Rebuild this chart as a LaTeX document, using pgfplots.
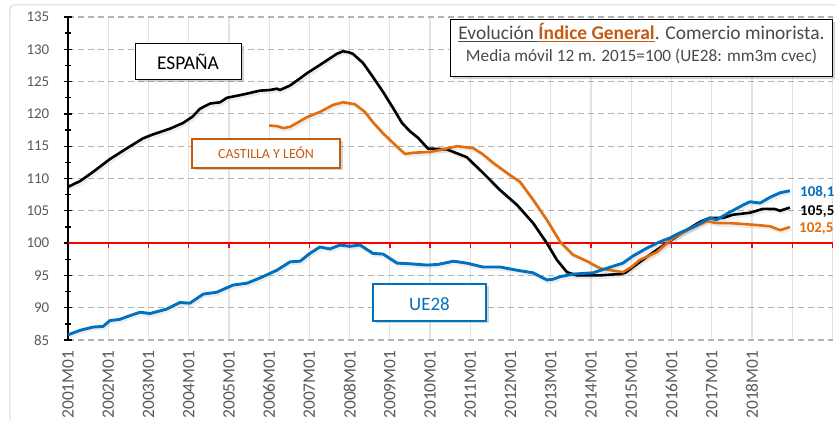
\documentclass[border=0pt]{standalone}
\usepackage{pgfplots}
\usepackage{pgfplotstable}
\pgfplotsset{compat=1.18}
\usepackage{fontspec}
\setmainfont{Carlito}
\usetikzlibrary{shadows}
\definecolor{cblue}{HTML}{0070C0}
\definecolor{corange}{HTML}{E46C0A}
\definecolor{cbrown}{HTML}{C55A11}
\definecolor{tgray}{HTML}{595959}
\definecolor{tgray2}{HTML}{4A4A4A}

\pgfplotstableread{
x y
2001.00 108.7
2001.30 109.6
2001.62 111.0
2002.04 113.0
2002.47 114.7
2002.86 116.2
2003.10 116.8
2003.53 117.7
2003.86 118.6
2004.10 119.6
2004.28 120.8
2004.53 121.6
2004.78 121.8
2004.95 122.5
2005.35 123.0
2005.77 123.6
2006.02 123.7
2006.19 123.9
2006.27 123.7
2006.52 124.4
2006.70 125.2
2006.94 126.3
2007.34 127.9
2007.68 129.3
2007.84 129.7
2008.00 129.5
2008.08 129.3
2008.33 127.9
2008.58 125.7
2008.83 123.4
2009.08 120.9
2009.30 118.6
2009.50 117.3
2009.70 116.3
2009.95 114.6
2010.10 114.6
2010.42 114.5
2010.91 113.3
2011.31 110.9
2011.74 108.2
2012.16 105.9
2012.56 103.1
2012.90 100.0
2013.15 97.4
2013.40 95.5
2013.65 95.0
2014.20 95.0
2014.70 95.2
2014.85 95.4
2015.04 96.3
2015.46 98.2
2015.88 100.0
2016.29 101.7
2016.71 103.3
2016.95 103.9
2017.28 103.9
2017.53 104.4
2017.95 104.7
2018.27 105.3
2018.55 105.3
2018.70 105.0
2018.94 105.5
}\esp

\pgfplotstableread{
x y
2006.00 118.2
2006.20 118.1
2006.35 117.8
2006.52 118.0
2006.94 119.5
2007.26 120.3
2007.59 121.4
2007.84 121.8
2008.13 121.5
2008.38 120.3
2008.58 118.7
2008.83 117.0
2009.18 114.9
2009.38 113.8
2009.60 114.0
2010.00 114.1
2010.30 114.5
2010.67 115.0
2011.07 114.7
2011.30 113.8
2011.57 112.4
2011.99 110.5
2012.23 109.5
2012.56 106.7
2012.90 103.6
2013.23 100.2
2013.55 98.2
2013.90 97.2
2014.22 96.1
2014.50 95.8
2014.79 95.5
2015.00 96.3
2015.21 97.4
2015.63 98.6
2016.04 100.8
2016.46 102.2
2016.88 103.4
2017.12 103.1
2017.45 103.1
2018.12 102.8
2018.45 102.6
2018.70 102.0
2018.94 102.5
}\cyl

\pgfplotstableread{
x y
2001.00 85.8
2001.30 86.5
2001.62 87.0
2001.87 87.1
2002.04 88.0
2002.29 88.2
2002.46 88.6
2002.79 89.3
2003.04 89.1
2003.46 89.8
2003.78 90.8
2004.03 90.7
2004.36 92.1
2004.70 92.4
2005.10 93.5
2005.45 93.8
2005.77 94.6
2006.19 95.8
2006.52 97.1
2006.77 97.2
2007.01 98.4
2007.26 99.4
2007.51 99.1
2007.76 99.7
2008.00 99.5
2008.26 99.7
2008.58 98.4
2008.83 98.3
2009.18 96.9
2009.50 96.8
2009.92 96.6
2010.20 96.7
2010.58 97.2
2010.91 96.9
2011.31 96.3
2011.74 96.3
2012.16 95.8
2012.56 95.4
2012.90 94.3
2013.05 94.4
2013.23 94.8
2013.55 95.2
2014.05 95.4
2014.39 96.1
2014.79 96.9
2015.04 98.0
2015.38 99.2
2015.71 100.2
2015.96 100.8
2016.21 101.6
2016.54 102.5
2016.95 103.9
2017.12 103.6
2017.45 104.8
2017.78 105.9
2017.95 106.4
2018.20 106.2
2018.45 107.1
2018.70 107.8
2018.94 108.1
}\ue

\begin{document}
\begin{tikzpicture}
\useasboundingbox (-68bp,-81bp) rectangle (768bp,340bp);
\begin{pgfinterruptboundingbox}
\begin{scope}
\clip (-68bp,-81bp) rectangle (768bp,340bp);
\draw[gray!30, line width=1bp, rounded corners=4bp] (-58bp,335bp) rectangle (820bp,-140bp);
\begin{axis}[
  at={(0,0)}, anchor=south west,
  scale only axis, width=764.5bp, height=323bp,
  xmin=2001, xmax=2020, ymin=85, ymax=135,
  clip=false,
  axis lines=left, axis line style={-},
  x axis line style={draw=none},
  y axis line style={black, line width=1.5bp},
  xtick={2001,...,2020},
  xticklabels={2001M01,2002M01,2003M01,2004M01,2005M01,2006M01,2007M01,2008M01,2009M01,2010M01,2011M01,2012M01,2013M01,2014M01,2015M01,2016M01,2017M01,2018M01,{},{}},
  xtick style={draw=none},
  xmajorgrids, x grid style={gray!22, line width=1.2bp},
  ytick={85,90,...,135},
  minor ytick={87.5,92.5,...,132.5},
  ymajorgrids, y grid style={gray!60, line width=1.1bp, dash pattern=on 6bp off 4bp},
  tick align=center,
  ytick style={black, line width=1.3bp},
  major tick length=9bp, minor tick length=7bp,
  /pgf/number format/assume math mode=true,
  yticklabel style={font=\fontsize{15}{15}\selectfont, text=tgray, anchor=east, inner sep=0pt, xshift=-14bp},
  xticklabel style={font=\fontsize{17.5}{17.5}\selectfont, text=tgray, yshift=-6bp, rotate=90, anchor=east, inner sep=0pt},
]
\draw[red, line width=1.7bp] (axis cs:2001,100) -- (axis cs:2020,100);
\pgfplotsinvokeforeach{2002,2003,2004,2005,2006,2007,2008,2009,2010,2011,2012,2013,2014,2015,2016,2017,2018,2019,2020}{
  \draw[red, line width=1.3bp] (axis cs:#1,100) -- (axis cs:#1,99.2);
}
\addplot[gray, opacity=0.14, line width=3.5bp, forget plot] table[x expr=\thisrow{x}+0.035, y expr=\thisrow{y}-0.3] {\esp};
\addplot[gray, opacity=0.14, line width=3.5bp, forget plot] table[x expr=\thisrow{x}+0.035, y expr=\thisrow{y}-0.3] {\cyl};
\addplot[gray, opacity=0.14, line width=3.5bp, forget plot] table[x expr=\thisrow{x}+0.035, y expr=\thisrow{y}-0.3] {\ue};
\addplot[black, line width=2.6bp, line join=round] table[x=x,y=y] {\esp};
\addplot[corange, line width=2.6bp, line join=round] table[x=x,y=y] {\cyl};
\addplot[cblue, line width=2.9bp, line join=round] table[x=x,y=y] {\ue};
\end{axis}
% annotation boxes
\path[draw=black, line width=1bp, fill=white, drop shadow={opacity=0.35, shadow xshift=2.5bp, shadow yshift=-2.5bp}] (382bp,263bp) rectangle (764bp,320bp);
\node[anchor=base, inner sep=0pt, text=tgray2, font=\fontsize{19.5}{19.5}\selectfont] at (573.5bp,300bp) {\underline{Evolución~}\textcolor{cbrown}{\underline{\textbf{Índice General}}}. Comercio minorista.};
\node[anchor=base, inner sep=0pt, text=tgray2, font=\fontsize{17.3}{17.3}\selectfont] at (573.5bp,278bp) {Media móvil 12 m. 2015=100 (UE28: mm3m cvec)};

\path[draw=black, line width=1bp, fill=white, drop shadow={opacity=0.35, shadow xshift=2.5bp, shadow yshift=-2.5bp}] (67bp,260bp) rectangle (173bp,296bp);
\node[anchor=base, inner sep=0pt, text=black, font=\fontsize{19.5}{19.5}\selectfont] at (120bp,270bp) {ESPAÑA};

\path[draw=cbrown, line width=1.2bp, fill=white, drop shadow={opacity=0.35, shadow xshift=2.5bp, shadow yshift=-2.5bp}] (124bp,172bp) rectangle (272bp,201bp);
\node[anchor=base, inner sep=0pt, text=cbrown, font=\fontsize{14}{14}\selectfont] at (198bp,181.5bp) {CASTILLA Y LEÓN};

\path[draw=cblue, line width=1.2bp, fill=white, drop shadow={opacity=0.35, shadow xshift=2.5bp, shadow yshift=-2.5bp}] (305bp,19bp) rectangle (418bp,56bp);
\node[anchor=base, inner sep=0pt, text=cblue, font=\fontsize{19}{19}\selectfont] at (361.5bp,30bp) {UE28};

\node[anchor=base west, inner sep=0pt, text=cblue, font=\bfseries\fontsize{15}{15}\selectfont] at (732bp,143bp) {108,1};
\node[anchor=base west, inner sep=0pt, text=black, font=\bfseries\fontsize{15}{15}\selectfont] at (732bp,124bp) {105,5};
\node[anchor=base west, inner sep=0pt, text=corange, font=\bfseries\fontsize{15}{15}\selectfont] at (731bp,107bp) {102,5};
\end{scope}
\end{pgfinterruptboundingbox}
\end{tikzpicture}
\end{document}
